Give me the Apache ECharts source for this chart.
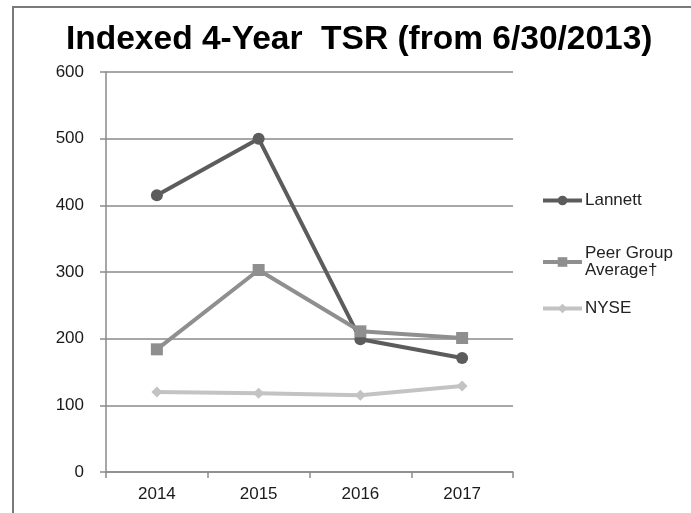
<!DOCTYPE html>
<html lang="en">
  <head>
    <meta charset="UTF-8" />
    <title>Indexed 4-Year TSR</title>
    <script src="https://cdn.jsdelivr.net/npm/echarts@6/dist/echarts.min.js"></script>
    <style>
      html, body { margin: 0; padding: 0; background: #fff; }
      #frame { position: absolute; left: 12px; top: 6px; width: 679px; height: 507px;
               border-left: 2px solid #7a7a7a; border-top: 2px solid #7a7a7a; box-sizing: border-box; }
      #main { position: absolute; left: 0; top: 0; width: 691px; height: 513px; }
    </style>
  </head>
  <body>
    <div id="frame"></div>
    <div id="main"></div>
    <script>
      // data
      var years = ['2014', '2015', '2016', '2017'];
      var lannett = [415, 500, 199, 171];
      var peerAvg = [184, 303, 211, 201];
      var nyse = [120, 118, 115, 129];

      var myChart = echarts.init(document.getElementById('main'));

      var font = 'Liberation Sans, Arial, sans-serif';

      function legendFor(name, top) {
        return {
          data: [name],
          orient: 'vertical',
          left: 536,
          top: top,
          itemWidth: 39,
          itemHeight: 12,
          itemGap: 0,
          lineStyle: { width: 4 },
          textStyle: { color: '#222', fontSize: 17, fontFamily: font, lineHeight: 17, padding: [0, 0, 0, -2] },
          formatter: function (n) { return n === 'Peer Group Average†' ? 'Peer Group\nAverage†' : n; }
        };
      }

      var option = {
        backgroundColor: 'transparent',
        animation: false,
        title: {
          text: 'Indexed 4-Year  TSR (from 6/30/2013)',
          left: 61,
          top: 18,
          textStyle: { fontFamily: font, fontSize: 33.5, fontWeight: 'bold', color: '#000' }
        },
        legend: [
          legendFor('Lannett', 187),
          legendFor('Peer Group Average†', 240),
          legendFor('NYSE', 295)
        ],
        grid: { left: 106, top: 72, width: 407, height: 400, containLabel: false },
        xAxis: {
          type: 'category',
          data: years,
          boundaryGap: true,
          axisLine: { lineStyle: { color: '#8a8a8a', width: 1.5 } },
          axisTick: { show: true, length: 6, lineStyle: { color: '#8a8a8a', width: 1.5 } },
          axisLabel: { color: '#1a1a1a', fontSize: 17, fontFamily: font, margin: 14 }
        },
        yAxis: {
          type: 'value',
          min: 0,
          max: 600,
          interval: 100,
          axisLine: { show: true, lineStyle: { color: '#8a8a8a', width: 1.5 } },
          axisTick: { show: true, length: 6, lineStyle: { color: '#8a8a8a', width: 1.5 } },
          axisLabel: { color: '#1a1a1a', fontSize: 17, fontFamily: font, margin: 22 },
          splitLine: { show: true, lineStyle: { color: '#8a8a8a', width: 1.5 } }
        },
        series: [
          {
            name: 'Lannett', type: 'line', data: lannett,
            symbol: 'circle', symbolSize: 12,
            lineStyle: { color: '#5c5c5c', width: 4 },
            itemStyle: { color: '#5c5c5c' }
          },
          {
            name: 'Peer Group Average†', type: 'line', data: peerAvg,
            symbol: 'rect', symbolSize: 12,
            lineStyle: { color: '#8f8f8f', width: 4 },
            itemStyle: { color: '#8f8f8f' }
          },
          {
            name: 'NYSE', type: 'line', data: nyse,
            symbol: 'diamond', symbolSize: 11,
            lineStyle: { color: '#c3c3c3', width: 4 },
            itemStyle: { color: '#c3c3c3' }
          }
        ]
      };

      myChart.setOption(option);
    </script>
  </body>
</html>
